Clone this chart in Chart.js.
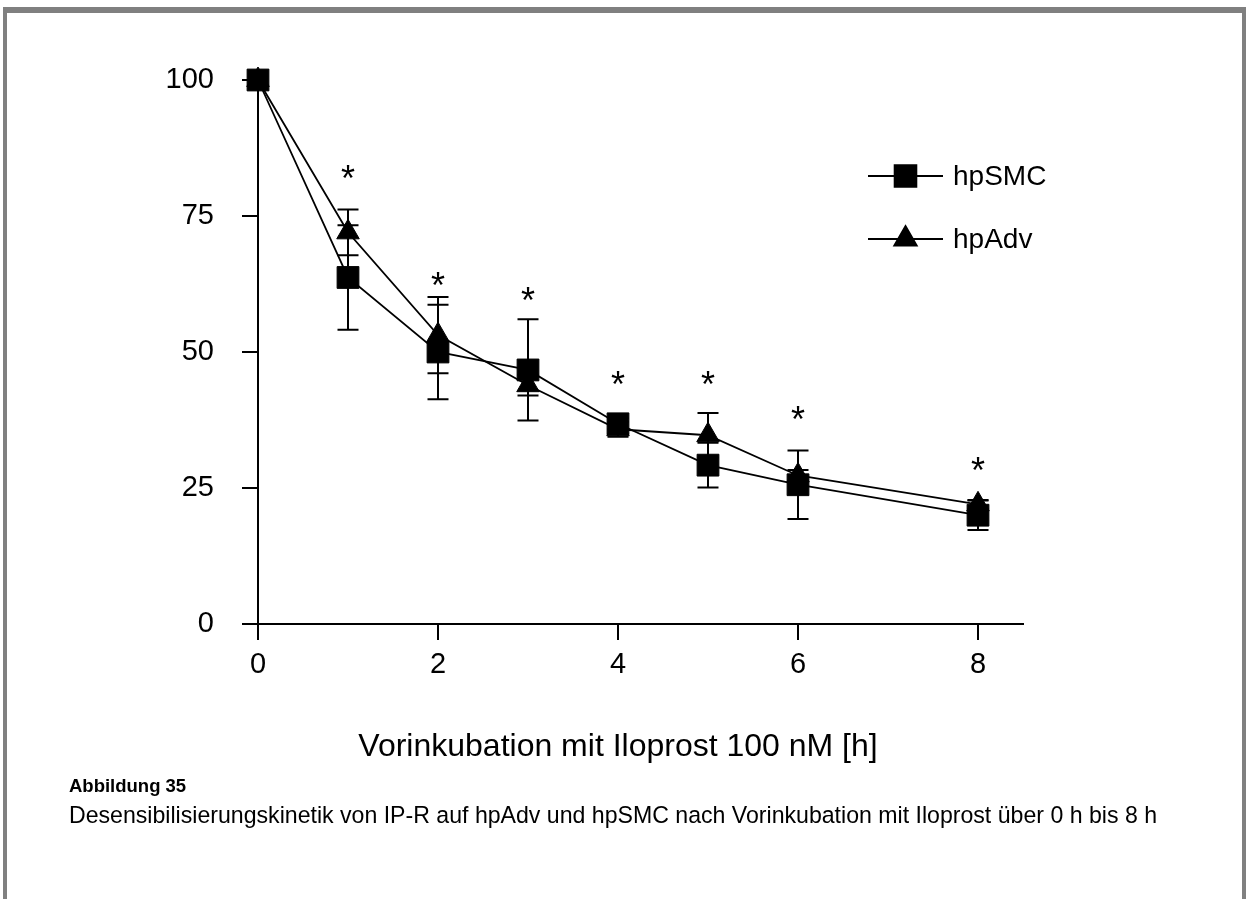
<!DOCTYPE html>
<html>
<head>
<meta charset="utf-8">
<script src="https://cdn.jsdelivr.net/npm/chart.js@4.4.1/dist/chart.umd.min.js"></script>
<style>
  html, body { margin:0; padding:0; background:#fff; width:1248px; height:899px; overflow:hidden;
    font-family:"Liberation Sans", Arial, Helvetica, sans-serif; color:#000; }
  #frame { position:absolute; left:3px; top:7px; width:1235px; height:920px;
    border-top:6px solid #808080; border-left:4px solid #808080; border-right:4px solid #808080; }
  #chart { position:absolute; left:0; top:0; }
  #xtitle { position:absolute; left:318px; width:600px; top:727px; line-height:36px; text-align:center; font-size:32px; }
  #cap1 { position:absolute; left:69px; top:775px; font-weight:bold; font-size:18.5px; line-height:22px; }
  #cap2 { position:absolute; left:69px; top:800px; font-size:23px; line-height:30px; white-space:nowrap; }
</style>
</head>
<body>
<div id="frame"></div>
<canvas id="chart" width="1248" height="899"></canvas>
<div id="xtitle">Vorinkubation mit Iloprost 100 nM [h]</div>
<div id="cap1">Abbildung 35</div>
<div id="cap2">Desensibilisierungskinetik von IP-R auf hpAdv und hpSMC nach Vorinkubation mit Iloprost über 0 h bis 8 h</div>
<script>
// ---- data ----
const xValues   = [0, 1, 2, 3, 4, 5, 6, 8];
const smcValues = [100, 63.7, 50.0, 46.7, 36.8, 29.2, 25.6, 20.0];
const smcErrors = [0, 9.6, 8.7, 9.3, 1.0, 4.1, 6.3, 2.7];
const advValues = [100, 72.0, 53.1, 43.9, 35.8, 34.7, 27.3, 22.0];
const advErrors = [0, 4.2, 7.0, 1.9, 1.4, 4.1, 1.0, 0.8];
const sigX      = [1, 2, 3, 4, 5, 6, 8];
const sigY      = [83.1, 63.4, 60.7, 45.2, 45.2, 38.7, 29.4];
const xTicks    = [0, 2, 4, 6, 8];
const yTicks    = [0, 25, 50, 75, 100];
const seriesNames = ['hpSMC', 'hpAdv'];

const FONT = '"Liberation Sans", Arial, Helvetica, sans-serif';

// size the caption line to the width seen in the reference
(function () {
  const el = document.getElementById('cap2');
  const target = 1088;
  const w = el.getBoundingClientRect().width;
  el.style.fontSize = (23 * target / w).toFixed(2) + 'px';
})();

const errorBarPlugin = {
  id: 'errorBars',
  beforeDatasetsDraw(chart) {
    const ctx = chart.ctx, xs = chart.scales.x, ys = chart.scales.y;
    const errs = [smcErrors, advErrors];
    const vals = [smcValues, advValues];
    ctx.save();
    ctx.strokeStyle = '#000';
    ctx.lineWidth = 2;
    for (let d = 0; d < 2; d++) {
      xValues.forEach((xv, i) => {
        const e = errs[d][i];
        if (!e) return;
        const px = xs.getPixelForValue(xv);
        const top = ys.getPixelForValue(vals[d][i] + e);
        const bot = ys.getPixelForValue(vals[d][i] - e);
        ctx.beginPath();
        ctx.moveTo(px, top); ctx.lineTo(px, bot);
        ctx.moveTo(px - 10.5, top); ctx.lineTo(px + 10.5, top);
        ctx.moveTo(px - 10.5, bot); ctx.lineTo(px + 10.5, bot);
        ctx.stroke();
      });
    }
    ctx.restore();
  }
};

const starPlugin = {
  id: 'stars',
  afterDatasetsDraw(chart) {
    const ctx = chart.ctx, xs = chart.scales.x, ys = chart.scales.y;
    ctx.save();
    ctx.fillStyle = '#000';
    ctx.font = '36px ' + FONT;
    ctx.textAlign = 'center';
    ctx.textBaseline = 'alphabetic';
    const m = ctx.measureText('*');
    const off = (m.actualBoundingBoxAscent - m.actualBoundingBoxDescent) / 2;
    sigX.forEach((xv, i) => {
      ctx.fillText('*', xs.getPixelForValue(xv), ys.getPixelForValue(sigY[i]) + off);
    });
    ctx.restore();
  }
};

const legendPlugin = {
  id: 'customLegend',
  afterDraw(chart) {
    const ctx = chart.ctx;
    const rows = [{ y: 176, style: 'rect', r: 15.4 }, { y: 239, style: 'triangle', r: 13 }];
    ctx.save();
    ctx.strokeStyle = '#000';
    ctx.fillStyle = '#000';
    ctx.font = '28px ' + FONT;
    ctx.textBaseline = 'middle';
    rows.forEach((row, i) => {
      ctx.lineWidth = 1.8;
      ctx.beginPath();
      ctx.moveTo(868, row.y); ctx.lineTo(943, row.y);
      ctx.stroke();
      Chart.helpers.drawPoint(ctx, { pointStyle: row.style, radius: row.r, rotation: 0, borderWidth: 1 }, 905.5, row.y);
      ctx.fillText(seriesNames[i], 953, row.y + 1);
    });
    ctx.restore();
  }
};

const tickFont = { family: FONT, size: 29 };

new Chart(document.getElementById('chart').getContext('2d'), {
  type: 'line',
  data: {
    datasets: [
      { label: seriesNames[0], data: xValues.map((x, i) => ({ x, y: smcValues[i] })), clip: false,
        pointStyle: 'rect', pointRadius: 15.4, borderColor: '#000', backgroundColor: '#000',
        pointBackgroundColor: '#000', pointBorderColor: '#000', pointBorderWidth: 1, borderWidth: 1.8, tension: 0, fill: false },
      { label: seriesNames[1], data: xValues.map((x, i) => ({ x, y: advValues[i] })), clip: false,
        pointStyle: 'triangle', pointRadius: 13, borderColor: '#000', backgroundColor: '#000',
        pointBackgroundColor: '#000', pointBorderColor: '#000', pointBorderWidth: 1, borderWidth: 1.8, tension: 0, fill: false }
    ]
  },
  options: {
    responsive: false,
    animation: false,
    devicePixelRatio: 1,
    layout: { padding: { left: 158, right: 225, top: 80, bottom: 215 } },
    plugins: { legend: { display: false }, tooltip: { enabled: false }, title: { display: false } },
    scales: {
      x: {
        type: 'linear', min: 0, max: 8.5,
        afterBuildTicks: s => { s.ticks = xTicks.map(v => ({ value: v })); },
        afterFit: s => { s.height = 60; },
        grid: { drawOnChartArea: false, drawTicks: true, tickLength: 16, tickColor: '#000', lineWidth: 2 },
        border: { display: true, color: '#000', width: 2 },
        ticks: { color: '#000', font: tickFont, padding: 8, maxRotation: 0, autoSkip: false }
      },
      y: {
        type: 'linear', min: 0, max: 100,
        afterBuildTicks: s => { s.ticks = yTicks.map(v => ({ value: v })); },
        afterFit: s => { s.width = 100; },
        grid: { drawOnChartArea: false, drawTicks: true, tickLength: 16, tickColor: '#000', lineWidth: 2 },
        border: { display: true, color: '#000', width: 2 },
        ticks: { color: '#000', font: tickFont, padding: 28, autoSkip: false }
      }
    }
  },
  plugins: [errorBarPlugin, starPlugin, legendPlugin]
});
</script>
</body>
</html>
